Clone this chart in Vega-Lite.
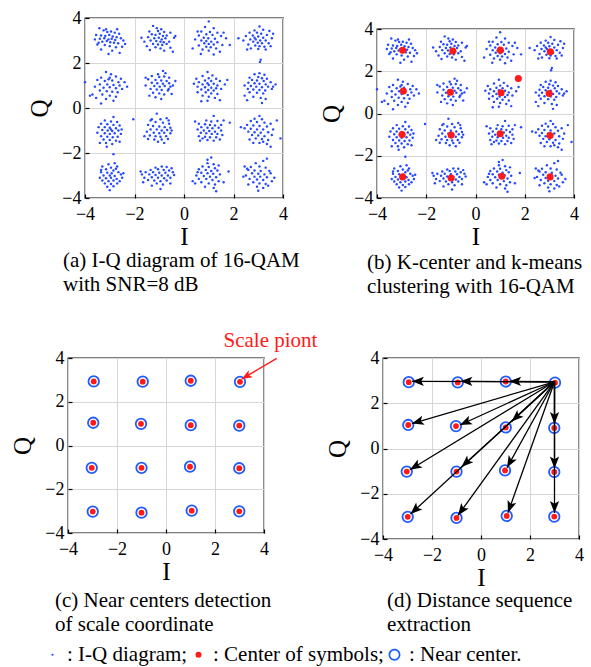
{
"$schema": "https://vega.github.io/schema/vega-lite/v6.json",
"background": "white",
"padding": {"left": 10, "top": 8, "right": 5, "bottom": 4},
"config": {
 "font": "Liberation Serif",
 "view": {"stroke": "black", "strokeWidth": 1.3},
 "axis": {"gridColor": "#d6d6d6", "gridWidth": 1, "domain": false, "tickColor": "black", "tickSize": -4, "tickWidth": 1.2, "labelFont": "Liberation Serif", "labelFontSize": 18, "labelColor": "black", "labelPadding": 8, "labelFlush": false, "labelOverlap": false, "titleFont": "Liberation Serif", "titleFontSize": 25, "titleFontWeight": "normal", "titleColor": "black"},
 "axisX": {"titlePadding": 1, "labelPadding": 11},
 "axisY": {"titlePadding": 9},
 "title": {"orient": "bottom", "anchor": "start", "frame": "group", "font": "Liberation Serif", "fontSize": 21, "fontWeight": "normal", "color": "black", "lineHeight": 24, "offset": 6}
},
"datasets": {
 "iq": [
{"i":-3.42,"q":3.55},{"i":-3.25,"q":3.45},{"i":-3.1,"q":3.38},{"i":-2.95,"q":3.4},{"i":-2.8,"q":3.35},{"i":-2.62,"q":3.3},{"i":-3.55,"q":3.25},{"i":-3.35,"q":3.22},{"i":-3.18,"q":3.2},{"i":-3.02,"q":3.25},{"i":-2.88,"q":3.18},{"i":-2.72,"q":3.15},{"i":-2.55,"q":3.1},{"i":-3.6,"q":3.05},{"i":-3.4,"q":3.08},{"i":-3.22,"q":3.1},{"i":-3.05,"q":3.05},{"i":-2.92,"q":3.08},{"i":-2.78,"q":3.02},{"i":-2.45,"q":3.0},{"i":-3.3,"q":2.95},{"i":-3.12,"q":2.98},{"i":-2.98,"q":2.92},{"i":-2.83,"q":2.9},{"i":-2.66,"q":2.88},{"i":-3.5,"q":2.82},{"i":-3.2,"q":2.8},{"i":-3.0,"q":2.75},{"i":-2.75,"q":2.7},{"i":-2.5,"q":2.72},{"i":-3.35,"q":2.6},{"i":-2.9,"q":2.55},{"i":-3.05,"q":2.4},{"i":-2.6,"q":2.45},{"i":-2.38,"q":2.85},{"i":-3.15,"q":3.5},{"i":-2.7,"q":3.5},{"i":-3.45,"q":2.9},
{"i":-1.25,"q":3.65},{"i":-1.1,"q":3.55},{"i":-0.92,"q":3.5},{"i":-1.4,"q":3.4},{"i":-1.05,"q":3.42},{"i":-0.8,"q":3.38},{"i":-0.55,"q":3.35},{"i":-1.3,"q":3.28},{"i":-1.15,"q":3.25},{"i":-0.98,"q":3.3},{"i":-0.85,"q":3.2},{"i":-0.7,"q":3.22},{"i":-1.72,"q":3.12},{"i":-1.45,"q":3.15},{"i":-1.2,"q":3.1},{"i":-1.02,"q":3.12},{"i":-0.9,"q":3.05},{"i":-0.75,"q":3.1},{"i":-0.4,"q":3.12},{"i":-1.35,"q":3.0},{"i":-1.12,"q":2.98},{"i":-0.95,"q":2.95},{"i":-0.82,"q":2.92},{"i":-0.6,"q":2.95},{"i":-1.25,"q":2.85},{"i":-1.05,"q":2.82},{"i":-0.88,"q":2.8},{"i":-0.7,"q":2.85},{"i":-1.5,"q":2.75},{"i":-1.15,"q":2.7},{"i":-0.95,"q":2.65},{"i":-0.55,"q":2.68},{"i":-1.38,"q":2.58},{"i":-0.8,"q":2.55},{"i":-0.45,"q":2.5},{"i":-1.6,"q":2.95},{"i":-0.35,"q":3.2},
{"i":1.0,"q":3.85},{"i":0.85,"q":3.6},{"i":1.2,"q":3.55},{"i":0.7,"q":3.4},{"i":1.05,"q":3.38},{"i":1.35,"q":3.35},{"i":0.9,"q":3.28},{"i":1.15,"q":3.25},{"i":0.6,"q":3.22},{"i":1.5,"q":3.2},{"i":0.8,"q":3.12},{"i":0.98,"q":3.1},{"i":1.25,"q":3.08},{"i":1.7,"q":3.1},{"i":0.45,"q":3.05},{"i":0.7,"q":3.0},{"i":0.9,"q":2.98},{"i":1.1,"q":2.95},{"i":1.35,"q":2.92},{"i":0.82,"q":2.88},{"i":1.0,"q":2.85},{"i":1.2,"q":2.82},{"i":1.55,"q":2.8},{"i":0.6,"q":2.78},{"i":0.9,"q":2.72},{"i":1.08,"q":2.7},{"i":1.3,"q":2.65},{"i":0.75,"q":2.6},{"i":1.0,"q":2.55},{"i":1.45,"q":2.5},{"i":0.68,"q":2.4},{"i":1.2,"q":2.38},{"i":1.85,"q":2.8},{"i":0.35,"q":2.65},{"i":1.6,"q":3.35},{"i":0.55,"q":3.4},
{"i":3.05,"q":3.62},{"i":2.85,"q":3.45},{"i":3.2,"q":3.48},{"i":3.45,"q":3.42},{"i":2.65,"q":3.35},{"i":2.95,"q":3.35},{"i":3.12,"q":3.3},{"i":3.35,"q":3.25},{"i":2.5,"q":3.2},{"i":2.78,"q":3.22},{"i":3.0,"q":3.18},{"i":3.2,"q":3.12},{"i":3.55,"q":3.1},{"i":2.68,"q":3.05},{"i":2.9,"q":3.05},{"i":3.08,"q":3.0},{"i":3.3,"q":3.0},{"i":2.4,"q":3.0},{"i":2.8,"q":2.95},{"i":2.98,"q":2.9},{"i":3.15,"q":2.88},{"i":3.42,"q":2.88},{"i":2.6,"q":2.82},{"i":2.88,"q":2.78},{"i":3.05,"q":2.75},{"i":3.25,"q":2.72},{"i":2.7,"q":2.65},{"i":3.0,"q":2.62},{"i":3.3,"q":2.6},{"i":3.5,"q":2.75},{"i":2.55,"q":2.6},{"i":3.1,"q":2.15},{"i":3.07,"q":2.05},{"i":2.2,"q":3.1},{"i":3.6,"q":3.3},{"i":2.85,"q":3.12},
{"i":-4.0,"q":1.15},{"i":-3.15,"q":1.6},{"i":-2.95,"q":1.5},{"i":-3.35,"q":1.35},{"i":-3.0,"q":1.35},{"i":-2.75,"q":1.4},{"i":-2.55,"q":1.3},{"i":-3.5,"q":1.25},{"i":-3.2,"q":1.2},{"i":-2.9,"q":1.22},{"i":-2.65,"q":1.15},{"i":-2.4,"q":1.15},{"i":-3.4,"q":1.05},{"i":-3.1,"q":1.05},{"i":-2.85,"q":1.02},{"i":-2.6,"q":1.0},{"i":-3.6,"q":0.95},{"i":-3.25,"q":0.9},{"i":-3.0,"q":0.92},{"i":-2.75,"q":0.88},{"i":-2.5,"q":0.85},{"i":-3.4,"q":0.78},{"i":-3.12,"q":0.75},{"i":-2.9,"q":0.72},{"i":-2.68,"q":0.7},{"i":-3.7,"q":0.6},{"i":-3.3,"q":0.6},{"i":-3.0,"q":0.55},{"i":-2.75,"q":0.5},{"i":-3.15,"q":0.4},{"i":-3.35,"q":0.2},{"i":-2.85,"q":0.32},{"i":-3.55,"q":0.45},{"i":-2.3,"q":0.95},{"i":-3.8,"q":0.55},{"i":-3.05,"q":1.28},
{"i":-0.85,"q":1.65},{"i":-1.05,"q":1.5},{"i":-0.75,"q":1.55},{"i":-1.3,"q":1.42},{"i":-1.0,"q":1.38},{"i":-0.8,"q":1.4},{"i":-0.6,"q":1.35},{"i":-1.45,"q":1.28},{"i":-1.15,"q":1.25},{"i":-0.92,"q":1.22},{"i":-0.7,"q":1.2},{"i":-1.3,"q":1.12},{"i":-1.08,"q":1.1},{"i":-0.85,"q":1.08},{"i":-0.6,"q":1.1},{"i":-0.35,"q":1.2},{"i":-1.55,"q":1.0},{"i":-1.2,"q":0.98},{"i":-0.98,"q":0.95},{"i":-0.78,"q":0.98},{"i":-0.55,"q":0.95},{"i":-1.35,"q":0.85},{"i":-1.1,"q":0.82},{"i":-0.9,"q":0.8},{"i":-0.65,"q":0.78},{"i":-1.25,"q":0.68},{"i":-1.0,"q":0.65},{"i":-0.8,"q":0.6},{"i":-0.5,"q":0.62},{"i":-1.4,"q":0.55},{"i":-0.92,"q":0.4},{"i":-1.15,"q":0.48},{"i":-0.62,"q":0.85},{"i":-1.55,"q":1.35},{"i":-0.45,"q":1.0},
{"i":0.95,"q":1.6},{"i":1.15,"q":1.45},{"i":0.75,"q":1.42},{"i":0.5,"q":1.3},{"i":1.0,"q":1.32},{"i":1.3,"q":1.3},{"i":0.85,"q":1.22},{"i":1.1,"q":1.2},{"i":0.6,"q":1.15},{"i":1.45,"q":1.2},{"i":0.95,"q":1.1},{"i":1.2,"q":1.08},{"i":0.4,"q":1.08},{"i":0.75,"q":1.05},{"i":1.0,"q":1.02},{"i":1.35,"q":1.0},{"i":1.65,"q":1.05},{"i":0.55,"q":0.95},{"i":0.85,"q":0.92},{"i":1.1,"q":0.9},{"i":1.3,"q":0.88},{"i":0.7,"q":0.82},{"i":0.98,"q":0.8},{"i":1.2,"q":0.78},{"i":1.5,"q":0.85},{"i":0.55,"q":0.7},{"i":0.88,"q":0.7},{"i":1.1,"q":0.65},{"i":1.35,"q":0.62},{"i":0.75,"q":0.55},{"i":1.0,"q":0.5},{"i":1.25,"q":0.45},{"i":0.7,"q":0.3},{"i":0.95,"q":0.32},{"i":1.45,"q":0.35},{"i":1.75,"q":1.25},
{"i":3.05,"q":1.55},{"i":2.85,"q":1.5},{"i":3.25,"q":1.48},{"i":2.65,"q":1.35},{"i":3.0,"q":1.38},{"i":3.15,"q":1.32},{"i":3.35,"q":1.3},{"i":2.75,"q":1.25},{"i":2.95,"q":1.22},{"i":3.22,"q":1.2},{"i":3.5,"q":1.15},{"i":2.6,"q":1.12},{"i":2.85,"q":1.1},{"i":3.05,"q":1.08},{"i":3.3,"q":1.05},{"i":3.7,"q":1.05},{"i":2.45,"q":1.0},{"i":2.7,"q":0.98},{"i":2.92,"q":0.95},{"i":3.15,"q":0.92},{"i":3.4,"q":0.95},{"i":2.58,"q":0.85},{"i":2.8,"q":0.82},{"i":3.05,"q":0.8},{"i":3.28,"q":0.78},{"i":3.55,"q":0.85},{"i":2.65,"q":0.7},{"i":2.95,"q":0.68},{"i":3.2,"q":0.65},{"i":2.45,"q":0.55},{"i":2.8,"q":0.5},{"i":3.1,"q":0.45},{"i":3.3,"q":0.4},{"i":2.55,"q":0.35},{"i":3.15,"q":0.22},{"i":3.6,"q":0.95},
{"i":-2.05,"q":-0.5},{"i":-2.85,"q":-0.4},{"i":-3.2,"q":-0.55},{"i":-2.95,"q":-0.6},{"i":-2.7,"q":-0.62},{"i":-3.35,"q":-0.7},{"i":-3.1,"q":-0.72},{"i":-2.85,"q":-0.75},{"i":-2.6,"q":-0.78},{"i":-3.45,"q":-0.85},{"i":-3.2,"q":-0.85},{"i":-3.0,"q":-0.88},{"i":-2.75,"q":-0.9},{"i":-3.3,"q":-0.98},{"i":-3.08,"q":-1.0},{"i":-2.9,"q":-1.02},{"i":-2.65,"q":-1.0},{"i":-3.5,"q":-1.1},{"i":-3.2,"q":-1.12},{"i":-3.0,"q":-1.15},{"i":-2.8,"q":-1.12},{"i":-2.55,"q":-1.15},{"i":-3.35,"q":-1.25},{"i":-3.1,"q":-1.28},{"i":-2.88,"q":-1.3},{"i":-2.68,"q":-1.28},{"i":-3.25,"q":-1.4},{"i":-3.0,"q":-1.42},{"i":-2.75,"q":-1.45},{"i":-3.15,"q":-1.55},{"i":-2.9,"q":-1.6},{"i":-3.12,"q":-1.72},{"i":-2.6,"q":-1.5},{"i":-2.52,"q":-0.95},{"i":-3.4,"q":-1.55},{"i":-2.95,"q":-0.95},
{"i":-1.1,"q":-0.25},{"i":-0.95,"q":-0.5},{"i":-0.7,"q":-0.45},{"i":-1.35,"q":-0.55},{"i":-1.15,"q":-0.62},{"i":-0.85,"q":-0.65},{"i":-0.6,"q":-0.7},{"i":-1.45,"q":-0.75},{"i":-1.25,"q":-0.8},{"i":-1.0,"q":-0.82},{"i":-0.78,"q":-0.85},{"i":-0.55,"q":-0.88},{"i":-1.35,"q":-0.95},{"i":-1.1,"q":-0.95},{"i":-0.9,"q":-1.0},{"i":-0.68,"q":-0.98},{"i":-1.5,"q":-1.05},{"i":-1.22,"q":-1.1},{"i":-1.0,"q":-1.12},{"i":-0.8,"q":-1.1},{"i":-0.55,"q":-1.12},{"i":-1.38,"q":-1.22},{"i":-1.15,"q":-1.25},{"i":-0.95,"q":-1.28},{"i":-0.72,"q":-1.25},{"i":-1.45,"q":-1.38},{"i":-1.2,"q":-1.4},{"i":-0.9,"q":-1.4},{"i":-0.65,"q":-1.38},{"i":-1.05,"q":-1.5},{"i":-1.3,"q":-0.5},{"i":-0.5,"q":-1.0},{"i":-1.6,"q":-1.25},{"i":-0.8,"q":-1.55},{"i":-0.62,"q":-0.55},
{"i":1.2,"q":-0.35},{"i":0.9,"q":-0.55},{"i":1.1,"q":-0.6},{"i":1.35,"q":-0.58},{"i":1.6,"q":-0.55},{"i":1.85,"q":-0.65},{"i":0.6,"q":-0.7},{"i":0.85,"q":-0.72},{"i":1.05,"q":-0.75},{"i":1.25,"q":-0.78},{"i":1.5,"q":-0.75},{"i":0.7,"q":-0.85},{"i":0.95,"q":-0.88},{"i":1.15,"q":-0.9},{"i":1.4,"q":-0.88},{"i":0.55,"q":-0.95},{"i":0.8,"q":-1.0},{"i":1.02,"q":-1.02},{"i":1.25,"q":-1.05},{"i":1.5,"q":-1.0},{"i":0.68,"q":-1.1},{"i":0.9,"q":-1.12},{"i":1.12,"q":-1.15},{"i":1.35,"q":-1.15},{"i":0.6,"q":-1.25},{"i":0.85,"q":-1.28},{"i":1.05,"q":-1.3},{"i":1.3,"q":-1.3},{"i":0.95,"q":-1.42},{"i":1.2,"q":-1.45},{"i":0.65,"q":-1.45},{"i":1.55,"q":-1.2},{"i":0.45,"q":-0.6},{"i":1.45,"q":-1.4},{"i":0.75,"q":-1.35},
{"i":3.05,"q":-0.35},{"i":2.85,"q":-0.48},{"i":3.15,"q":-0.5},{"i":2.7,"q":-0.58},{"i":2.95,"q":-0.62},{"i":3.25,"q":-0.65},{"i":3.5,"q":-0.7},{"i":2.55,"q":-0.75},{"i":2.8,"q":-0.78},{"i":3.05,"q":-0.8},{"i":3.35,"q":-0.82},{"i":2.45,"q":-0.9},{"i":2.7,"q":-0.92},{"i":2.95,"q":-0.95},{"i":3.2,"q":-0.95},{"i":3.6,"q":-0.95},{"i":2.6,"q":-1.05},{"i":2.85,"q":-1.08},{"i":3.1,"q":-1.1},{"i":3.4,"q":-1.08},{"i":3.9,"q":-1.35},{"i":2.75,"q":-1.2},{"i":3.0,"q":-1.22},{"i":3.25,"q":-1.25},{"i":3.55,"q":-1.2},{"i":2.9,"q":-1.35},{"i":3.15,"q":-1.38},{"i":3.4,"q":-1.42},{"i":2.65,"q":-1.4},{"i":3.05,"q":-1.55},{"i":3.35,"q":-1.6},{"i":3.5,"q":-1.72},{"i":2.8,"q":-1.55},{"i":3.75,"q":-0.55},{"i":2.3,"q":-0.85},{"i":3.2,"q":-1.5},
{"i":-2.85,"q":-2.05},{"i":-3.05,"q":-2.5},{"i":-2.8,"q":-2.45},{"i":-3.3,"q":-2.6},{"i":-2.95,"q":-2.65},{"i":-2.7,"q":-2.6},{"i":-3.15,"q":-2.72},{"i":-2.85,"q":-2.78},{"i":-3.35,"q":-2.85},{"i":-3.1,"q":-2.88},{"i":-2.92,"q":-2.9},{"i":-2.65,"q":-2.85},{"i":-3.25,"q":-3.0},{"i":-3.0,"q":-3.0},{"i":-2.8,"q":-3.02},{"i":-2.55,"q":-2.95},{"i":-3.4,"q":-3.1},{"i":-3.15,"q":-3.12},{"i":-2.95,"q":-3.1},{"i":-2.72,"q":-3.15},{"i":-3.3,"q":-3.22},{"i":-3.05,"q":-3.25},{"i":-2.85,"q":-3.22},{"i":-2.6,"q":-3.25},{"i":-3.2,"q":-3.35},{"i":-2.95,"q":-3.38},{"i":-2.7,"q":-3.35},{"i":-3.1,"q":-3.5},{"i":-2.85,"q":-3.48},{"i":-3.0,"q":-3.65},{"i":-2.5,"q":-3.1},{"i":-3.35,"q":-2.75},{"i":-2.45,"q":-2.9},{"i":-2.75,"q":-2.7},
{"i":-0.9,"q":-2.6},{"i":-0.7,"q":-2.62},{"i":-1.15,"q":-2.65},{"i":-0.5,"q":-2.68},{"i":-1.35,"q":-2.75},{"i":-1.05,"q":-2.72},{"i":-0.82,"q":-2.75},{"i":-0.6,"q":-2.78},{"i":-1.55,"q":-2.85},{"i":-1.25,"q":-2.85},{"i":-1.0,"q":-2.88},{"i":-0.75,"q":-2.88},{"i":-0.45,"q":-2.85},{"i":-1.7,"q":-2.95},{"i":-1.4,"q":-2.95},{"i":-1.15,"q":-2.98},{"i":-0.9,"q":-3.0},{"i":-0.65,"q":-3.0},{"i":-0.4,"q":-2.98},{"i":-1.6,"q":-3.1},{"i":-1.3,"q":-3.08},{"i":-1.05,"q":-3.1},{"i":-0.8,"q":-3.12},{"i":-0.55,"q":-3.1},{"i":-1.45,"q":-3.2},{"i":-1.2,"q":-3.22},{"i":-0.95,"q":-3.25},{"i":-0.7,"q":-3.22},{"i":-1.65,"q":-3.3},{"i":-1.1,"q":-3.35},{"i":-0.85,"q":-3.4},{"i":-0.55,"q":-3.35},{"i":-1.3,"q":-3.45},{"i":-0.95,"q":-3.6},{"i":-1.75,"q":-2.82},
{"i":1.1,"q":-2.2},{"i":0.95,"q":-2.45},{"i":1.2,"q":-2.5},{"i":1.4,"q":-2.55},{"i":0.75,"q":-2.6},{"i":1.0,"q":-2.62},{"i":1.25,"q":-2.68},{"i":0.6,"q":-2.72},{"i":0.88,"q":-2.75},{"i":1.1,"q":-2.8},{"i":1.35,"q":-2.78},{"i":1.8,"q":-2.82},{"i":0.7,"q":-2.88},{"i":0.95,"q":-2.9},{"i":1.18,"q":-2.92},{"i":1.45,"q":-2.95},{"i":0.5,"q":-3.0},{"i":0.8,"q":-3.02},{"i":1.05,"q":-3.05},{"i":1.3,"q":-3.08},{"i":0.6,"q":-3.15},{"i":0.9,"q":-3.15},{"i":1.15,"q":-3.2},{"i":1.4,"q":-3.25},{"i":0.35,"q":-3.25},{"i":0.7,"q":-3.3},{"i":1.0,"q":-3.35},{"i":1.25,"q":-3.4},{"i":0.85,"q":-3.5},{"i":1.2,"q":-3.55},{"i":1.6,"q":-3.3},{"i":0.45,"q":-3.35},{"i":1.3,"q":-3.7},{"i":0.95,"q":-2.3},{"i":0.55,"q":-2.85},
{"i":3.35,"q":-2.25},{"i":3.2,"q":-2.35},{"i":2.9,"q":-2.45},{"i":2.45,"q":-2.6},{"i":2.7,"q":-2.62},{"i":3.05,"q":-2.6},{"i":3.3,"q":-2.65},{"i":2.6,"q":-2.75},{"i":2.85,"q":-2.78},{"i":3.1,"q":-2.8},{"i":3.45,"q":-2.8},{"i":2.75,"q":-2.9},{"i":3.0,"q":-2.92},{"i":3.25,"q":-2.95},{"i":3.5,"q":-2.9},{"i":2.5,"q":-3.0},{"i":2.85,"q":-3.05},{"i":3.08,"q":-3.05},{"i":3.35,"q":-3.08},{"i":2.65,"q":-3.15},{"i":2.95,"q":-3.18},{"i":3.2,"q":-3.2},{"i":3.55,"q":-3.25},{"i":2.8,"q":-3.3},{"i":3.05,"q":-3.35},{"i":3.3,"q":-3.38},{"i":2.6,"q":-3.4},{"i":2.95,"q":-3.5},{"i":3.2,"q":-3.55},{"i":3.0,"q":-3.68},{"i":2.4,"q":-3.05},{"i":3.65,"q":-3.1},{"i":2.55,"q":-2.7},{"i":3.4,"q":-3.45}
 ],
 "kc": [
{"i":-2.96,"q":2.99},{"i":-0.92,"q":2.96},{"i":1.01,"q":3.0},{"i":3.04,"q":2.92},
{"i":-2.93,"q":1.06},{"i":-1.02,"q":1.01},{"i":1.04,"q":0.98},{"i":2.99,"q":0.95},{"i":1.74,"q":1.66},
{"i":-2.98,"q":-0.99},{"i":-0.99,"q":-1.02},{"i":1.0,"q":-0.96},{"i":3.03,"q":-1.04},
{"i":-2.96,"q":-3.0},{"i":-0.99,"q":-3.05},{"i":1.07,"q":-2.97},{"i":3.03,"q":-3.0}
 ],
 "centers": [
{"i":-2.95,"q":2.93},{"i":-0.95,"q":2.92},{"i":1.01,"q":2.96},{"i":3.02,"q":2.91},
{"i":-2.97,"q":1.04},{"i":-1.02,"q":0.99},{"i":1.01,"q":0.93},{"i":2.99,"q":0.91},
{"i":-3.03,"q":-1.02},{"i":-1.0,"q":-1.02},{"i":0.98,"q":-0.97},{"i":2.99,"q":-1.04},
{"i":-2.99,"q":-3.02},{"i":-1.0,"q":-3.07},{"i":1.05,"q":-2.98},{"i":2.99,"q":-3.01}
 ],
 "arrows": [
{"i0":3.0,"q0":2.95,"i":-2.82,"q":2.97},{"i0":3.0,"q0":2.95,"i":-0.84,"q":2.97},{"i0":3.0,"q0":2.95,"i":1.15,"q":2.97},
{"i0":3.0,"q0":2.95,"i":-2.82,"q":1.1},{"i0":3.0,"q0":2.95,"i":-0.86,"q":1.04},{"i0":3.0,"q0":2.95,"i":1.25,"q":1.19},{"i0":3.0,"q0":2.95,"i":3.0,"q":1.08},
{"i0":3.0,"q0":2.95,"i":-2.9,"q":-0.94},{"i0":3.0,"q0":2.95,"i":-0.8,"q":-0.82},{"i0":3.0,"q0":2.95,"i":1.06,"q":-0.85},{"i0":3.0,"q0":2.95,"i":3.0,"q":-0.88},
{"i0":3.0,"q0":2.95,"i":-2.88,"q":-2.9},{"i0":3.0,"q0":2.95,"i":-0.94,"q":-2.96},{"i0":3.0,"q0":2.95,"i":1.1,"q":-2.84},{"i0":3.0,"q0":2.95,"i":3.0,"q":-2.85}
 ]
},
"bounds": "flush",
"spacing": 340,
"vconcat": [
 {
  "bounds": "flush",
  "spacing": 0,
  "hconcat": [
   {"width": 17, "height": 1, "view": {"stroke": null}, "data": {"values": [{"k": 1}]}, "mark": {"type": "text", "text": ""}, "encoding": {}},
   {
    "width": 198, "height": 180,
    "title": {"text": ["(a) I-Q diagram of 16-QAM", "with SNR=8 dB"], "dx": -22, "dy": -5},
    "data": {"name": "iq"},
    "mark": {"type": "point", "filled": true, "size": 6, "color": "#2448ff", "opacity": 1},
    "encoding": {
     "x": {"field": "i", "type": "quantitative", "scale": {"domain": [-4, 4], "nice": false}, "title": "I"},
     "y": {"field": "q", "type": "quantitative", "scale": {"domain": [-4, 4], "nice": false}, "title": "Q"}
    }
   },
   {"width": 94, "height": 1, "view": {"stroke": null}, "data": {"values": [{"k": 1}]}, "mark": {"type": "text", "text": ""}, "encoding": {}},
   {
    "bounds": "flush",
    "spacing": 0,
    "vconcat": [
     {"width": 1, "height": 11, "view": {"stroke": null}, "data": {"values": [{"k": 1}]}, "mark": {"type": "text", "text": ""}, "encoding": {}},
     {
      "width": 197, "height": 169,
      "title": {"text": ["(b) K-center and k-means", "clustering with 16-QAM"], "dx": -10, "dy": -3},
      "encoding": {
       "x": {"field": "i", "type": "quantitative", "scale": {"domain": [-4, 4], "nice": false}, "title": "I"},
       "y": {"field": "q", "type": "quantitative", "scale": {"domain": [-4, 4], "nice": false}, "title": "Q"}
      },
      "layer": [
       {"data": {"name": "iq"}, "mark": {"type": "point", "filled": true, "size": 6, "color": "#2448ff", "opacity": 1}},
       {"data": {"name": "kc"}, "mark": {"type": "point", "filled": true, "size": 50, "color": "#ff1a1a", "opacity": 1}}
      ]
     }
    ]
   }
  ]
 },
 {
  "bounds": "flush",
  "spacing": 0,
  "hconcat": [
   {
    "width": 196, "height": 175,
    "title": {"text": ["(c) Near centers detection", "of scale coordinate"], "dx": -13},
    "encoding": {
     "x": {"field": "i", "type": "quantitative", "scale": {"domain": [-4, 4], "nice": false}, "title": "I"},
     "y": {"field": "q", "type": "quantitative", "scale": {"domain": [-4, 4], "nice": false}, "title": "Q"}
    },
    "layer": [
     {"data": {"name": "centers"}, "mark": {"type": "point", "filled": false, "size": 110, "strokeWidth": 1.8, "color": "#1f5bff", "opacity": 1}},
     {"data": {"name": "centers"}, "mark": {"type": "point", "filled": true, "size": 34, "color": "#ff1a1a", "opacity": 1}},
     {
      "data": {"values": [{"i0": 4.52, "q0": 3.98, "i": 3.09, "q": 3.04}]},
      "mark": {"type": "rule", "color": "#ff1a1a", "strokeWidth": 1.4},
      "encoding": {
       "x": {"field": "i0", "type": "quantitative", "scale": {"domain": [-4, 4], "nice": false}, "title": "I"},
       "y": {"field": "q0", "type": "quantitative", "scale": {"domain": [-4, 4], "nice": false}, "title": "Q"},
       "x2": {"field": "i"},
       "y2": {"field": "q"}
      }
     },
     {
      "data": {"values": [{"i0": 4.52, "q0": 3.98, "i": 3.09, "q": 3.04}]},
      "transform": [{"calculate": "atan2(24.5*(datum.i-datum.i0), 21.875*(datum.q-datum.q0))*180/PI", "as": "ang"}],
      "mark": {"type": "point", "filled": true, "size": 260, "color": "#ff1a1a", "opacity": 1, "shape": "M0,0L0.5,1.3L0,1L-0.5,1.3Z"},
      "encoding": {"angle": {"field": "ang", "type": "quantitative", "scale": null}}
     },
     {
      "data": {"values": [{"i": 4.265, "q": 4.5, "label": "Scale piont"}]},
      "mark": {"type": "text", "color": "#ff1a1a", "fontSize": 21, "font": "Liberation Serif", "align": "center", "baseline": "alphabetic"},
      "encoding": {"text": {"field": "label"}}
     }
    ]
   },
   {"width": 119, "height": 1, "view": {"stroke": null}, "data": {"values": [{"k": 1}]}, "mark": {"type": "text", "text": ""}, "encoding": {}},
   {
    "width": 196, "height": 181,
    "title": {"text": ["(d) Distance sequence", "extraction"], "dx": 4, "dy": -6},
    "encoding": {
     "x": {"field": "i", "type": "quantitative", "scale": {"domain": [-4, 4], "nice": false}, "title": "I"},
     "y": {"field": "q", "type": "quantitative", "scale": {"domain": [-4, 4], "nice": false}, "title": "Q"}
    },
    "layer": [
     {"data": {"name": "centers"}, "mark": {"type": "point", "filled": false, "size": 110, "strokeWidth": 1.8, "color": "#1f5bff", "opacity": 1}},
     {"data": {"name": "centers"}, "mark": {"type": "point", "filled": true, "size": 34, "color": "#ff1a1a", "opacity": 1}},
     {
      "data": {"name": "arrows"},
      "mark": {"type": "rule", "color": "black", "strokeWidth": 1.3},
      "encoding": {
       "x": {"field": "i0", "type": "quantitative", "scale": {"domain": [-4, 4], "nice": false}, "title": "I"},
       "y": {"field": "q0", "type": "quantitative", "scale": {"domain": [-4, 4], "nice": false}, "title": "Q"},
       "x2": {"field": "i"},
       "y2": {"field": "q"}
      }
     },
     {
      "data": {"name": "arrows"},
      "transform": [{"calculate": "atan2(24.5*(datum.i-datum.i0), 22.625*(datum.q-datum.q0))*180/PI", "as": "ang"}],
      "mark": {"type": "point", "filled": true, "size": 340, "color": "black", "opacity": 1, "shape": "M0,0L0.5,1.3L0,1L-0.5,1.3Z"},
      "encoding": {"angle": {"field": "ang", "type": "quantitative", "scale": null}}
     },
     {
      "data": {"values": [{"kind": "I-Q diagram"}, {"kind": "Center of symbols"}, {"kind": "Near center"}]},
      "transform": [{"filter": "false"}],
      "mark": {"type": "point", "filled": true, "opacity": 1},
      "encoding": {
       "color": {"field": "kind", "type": "nominal", "scale": {"domain": ["I-Q diagram", "Center of symbols", "Near center"], "range": ["#2448ff", "#ff1a1a", "#1f5bff"]},
        "legend": {"orient": "none", "legendX": -26, "legendY": 626, "direction": "horizontal", "title": null, "labelFont": "Liberation Serif", "labelFontSize": 21, "labelColor": "black", "labelOffset": 4, "columnPadding": -3, "labelLimit": 400, "padding": 0, "labelExpr": "datum.label == 'Near center' ? ': Near center.' : datum.label == 'Center of symbols' ? ': Center of symbols;   ' : ': I-Q diagram;'"}},
       "shape": {"field": "kind", "type": "nominal", "scale": {"domain": ["I-Q diagram", "Center of symbols", "Near center"], "range": ["circle", "circle", "M1,0A1,1,0,1,1,-1,0A1,1,0,1,1,1,0ZM0.72,0A0.72,0.72,0,1,0,-0.72,0A0.72,0.72,0,1,0,0.72,0Z"]},
        "legend": {"orient": "none", "legendX": -26, "legendY": 626, "direction": "horizontal", "title": null, "labelFont": "Liberation Serif", "labelFontSize": 21, "labelColor": "black", "labelOffset": 4, "columnPadding": -3, "labelLimit": 400, "padding": 0, "labelExpr": "datum.label == 'Near center' ? ': Near center.' : datum.label == 'Center of symbols' ? ': Center of symbols;   ' : ': I-Q diagram;'"}},
       "size": {"field": "kind", "type": "nominal", "scale": {"type": "ordinal", "domain": ["I-Q diagram", "Center of symbols", "Near center"], "range": [5, 36, 140]},
        "legend": {"orient": "none", "legendX": -26, "legendY": 626, "direction": "horizontal", "title": null, "labelFont": "Liberation Serif", "labelFontSize": 21, "labelColor": "black", "labelOffset": 4, "columnPadding": -3, "labelLimit": 400, "padding": 0, "labelExpr": "datum.label == 'Near center' ? ': Near center.' : datum.label == 'Center of symbols' ? ': Center of symbols;   ' : ': I-Q diagram;'"}}
      }
     }
    ]
   }
  ]
 }
]
}
